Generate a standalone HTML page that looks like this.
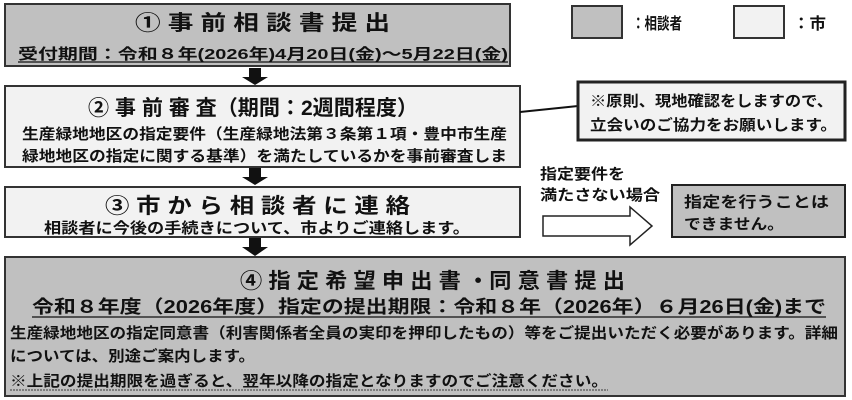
<!DOCTYPE html>
<html><head><meta charset="utf-8"><style>
html,body{margin:0;padding:0;background:#fff;}
svg{display:block;}
text{font-family:"Liberation Sans","Noto Sans CJK JP",sans-serif;font-weight:bold;fill:#111;}
</style></head><body>
<svg width="852" height="400" viewBox="0 0 852 400" xmlns="http://www.w3.org/2000/svg">
<!-- legend -->
<rect x="572" y="6" width="50" height="32" fill="#c0c0c0" stroke="#333" stroke-width="2"/>
<text x="632" y="29" font-size="16" textLength="50" lengthAdjust="spacingAndGlyphs">：相談者</text>
<rect x="734" y="6" width="50" height="32" fill="#f2f2f2" stroke="#333" stroke-width="2"/>
<text x="793" y="29" font-size="16" textLength="33" lengthAdjust="spacingAndGlyphs">：市</text>

<!-- box1 -->
<rect x="5" y="4" width="505" height="62" fill="#c0c0c0" stroke="#333" stroke-width="2"/>
<text x="135" y="30" font-size="21" textLength="255" lengthAdjust="spacingAndGlyphs">① 事 前 相 談 書 提 出</text>
<text x="18" y="59" font-size="15" textLength="490" lengthAdjust="spacingAndGlyphs">受付期間：令和８年(2026年)4月20日(金)～5月22日(金)</text>
<line x1="18" y1="62" x2="508" y2="62" stroke="#111" stroke-width="1.2"/>

<!-- arrows -->
<polygon points="249,68 261,68 261,77 268,77 255,85 242,77 249,77" fill="#111"/>
<polygon points="249,168 261,168 261,177 268,177 255,185 242,177 249,177" fill="#111"/>
<polygon points="249,238 261,238 261,247 268,247 255,256 242,247 249,247" fill="#111"/>

<!-- box2 -->
<rect x="5" y="86" width="515" height="81" fill="#f2f2f2" stroke="#333" stroke-width="2"/>
<text x="88" y="115" font-size="21" textLength="330" lengthAdjust="spacingAndGlyphs">② 事 前 審 査（期間：2週間程度）</text>
<text x="22" y="139" font-size="15" textLength="485" lengthAdjust="spacingAndGlyphs">生産緑地地区の指定要件（生産緑地法第３条第１項・豊中市生産</text>
<text x="22" y="161" font-size="15" textLength="485" lengthAdjust="spacingAndGlyphs">緑地地区の指定に関する基準）を満たしているかを事前審査しま</text>
<line x1="520" y1="112" x2="578" y2="106" stroke="#111" stroke-width="2"/>

<!-- note -->
<rect x="578" y="82" width="267" height="58" fill="#f2f2f2" stroke="#222" stroke-width="3"/>
<text x="590" y="106" font-size="15" textLength="243" lengthAdjust="spacingAndGlyphs">※原則、現地確認をしますので、</text>
<text x="590" y="130" font-size="15" textLength="247" lengthAdjust="spacingAndGlyphs">立会いのご協力をお願いします。</text>

<!-- box3 -->
<rect x="5" y="187" width="515" height="50" fill="#f2f2f2" stroke="#333" stroke-width="2"/>
<text x="105" y="213" font-size="21" textLength="305" lengthAdjust="spacingAndGlyphs">③ 市 か ら 相 談 者 に 連 絡</text>
<text x="44" y="233" font-size="15" textLength="426" lengthAdjust="spacingAndGlyphs">相談者に今後の手続きについて、市よりご連絡します。</text>

<!-- condition -->
<text x="540" y="179" font-size="15" textLength="85" lengthAdjust="spacingAndGlyphs">指定要件を</text>
<text x="540" y="200" font-size="15" textLength="120" lengthAdjust="spacingAndGlyphs">満たさない場合</text>
<polygon points="543,216 630,216 630,207 652,226 630,245 630,236 543,236" fill="#fff" stroke="#222" stroke-width="1.5"/>
<rect x="672" y="185" width="173" height="52" fill="#c0c0c0" stroke="#222" stroke-width="2"/>
<text x="684" y="207" font-size="15" textLength="145" lengthAdjust="spacingAndGlyphs">指定を行うことは</text>
<text x="684" y="229" font-size="15" textLength="100" lengthAdjust="spacingAndGlyphs">できません。</text>

<!-- box4 -->
<rect x="5" y="257" width="840" height="139" fill="#c0c0c0" stroke="#333" stroke-width="2"/>
<text x="240" y="288" font-size="21" textLength="385" lengthAdjust="spacingAndGlyphs">④ 指 定 希 望 申 出 書 ・同 意 書 提 出</text>
<text x="32" y="313" font-size="18" textLength="794" lengthAdjust="spacingAndGlyphs">令和８年度（2026年度）指定の提出期限：令和８年（2026年）６月26日(金)まで</text>
<line x1="32" y1="317" x2="826" y2="317" stroke="#111" stroke-width="1.3"/>
<text x="10" y="338" font-size="15" textLength="828" lengthAdjust="spacingAndGlyphs">生産緑地地区の指定同意書（利害関係者全員の実印を押印したもの）等をご提出いただく必要があります。詳細</text>
<text x="10" y="361" font-size="15" textLength="245" lengthAdjust="spacingAndGlyphs">については、別途ご案内します。</text>
<text x="10" y="386" font-size="15" textLength="598" lengthAdjust="spacingAndGlyphs">※上記の提出期限を過ぎると、翌年以降の指定となりますのでご注意ください。</text>
<line x1="10" y1="390" x2="608" y2="390" stroke="#555" stroke-width="1.2" stroke-dasharray="2,1"/>
</svg>
</body></html>
